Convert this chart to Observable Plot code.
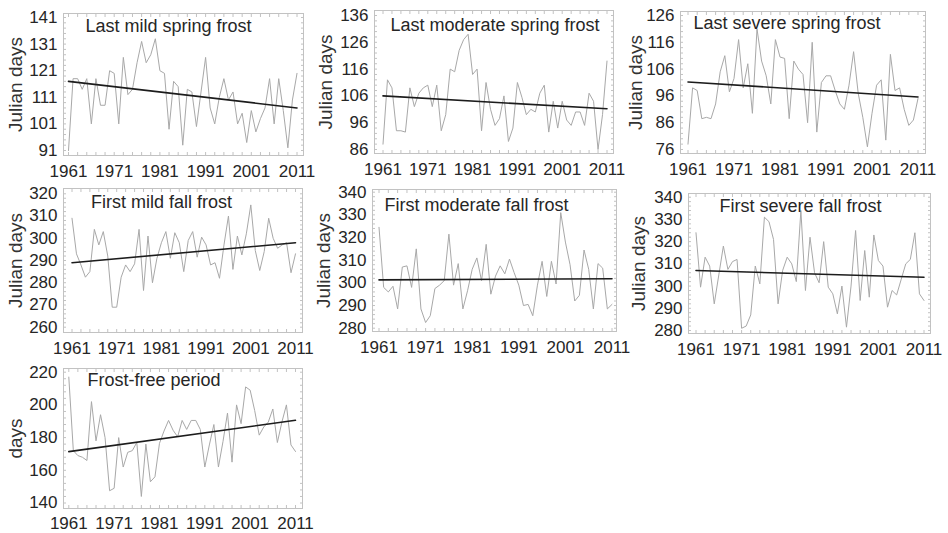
<!DOCTYPE html>
<html>
<head>
<meta charset="utf-8">
<script src="https://cdn.jsdelivr.net/npm/d3@7"></script>
<script src="https://cdn.jsdelivr.net/npm/@observablehq/plot@0.6"></script>
<style>
  body { margin: 0; background: #fff; }
  #fig { position: relative; width: 948px; height: 533px; overflow: hidden; background: #fff;
         font-family: "Liberation Sans", Arial, sans-serif; }
  #fig svg { position: absolute; overflow: visible; }
</style>
</head>
<body>
<div id="fig"></div>
<script>
// Frost dates, 1961–2011 (Julian day of year) and frost-free period length (days)
const years = d3.range(1961, 2012);
const yearTicks = [1961, 1971, 1981, 1991, 2001, 2011];
const trendYears = [1961, 2011];

const lastMild = [91,118,118,114,118,101,118,108,108,121,120,101,126,112,114,124,132,124,127,133,
  121,120,99,117,115,93,114,113,100,113,126,107,101,111,118,110,113,101,105,94,
  106,98,103,107,118,101,118,106,92,110,120];
const lastModerate = [88,112,109,93,93,92.5,109,102,107,109,110,102,110,93,99,116,115,123,127,129,
  114,116,93,111,101,95,97.5,106,89,94,111,105.5,99,101,100,107,110,92.5,104,94,
  104,97,95,100,100,95,107,104,86,99,119];
const lastSevere = [78,99,98,87.5,88,87.5,93,105,111,97.5,102.5,117,99,108,89.5,121,109,103.5,93,117,
  110.5,110,87.5,109,106,104,86,116,82.5,101,103.5,103.5,98,93,91,100,112.5,97,88,77,
  89.5,100,102,79.5,111.5,98,99,91,85,87,95];
const firstMild = [309,293,288,282.5,285,304,297,303,292,269,269,282.5,288,285,288.5,304,276.5,301,280,291,
  298,303,291,302.5,298,285,299,303,291.5,300.5,297,288,289,282,297,310,286,301,292.5,302,
  315,294.5,285.5,294,309,300,295.5,297,298,284.5,293];
const firstModerate = [324.5,298,296,298.5,288.5,307,307.5,298,315,288.5,282.5,285.5,297.5,299,301,321.5,299,308.5,288.5,296.5,
  306,311,301,317,295,303,307.5,304,310.5,304.5,299,290,290.5,285.5,299,309.5,294,309.5,299.5,331,
  318,308,292,294.5,314.5,306,288.5,308.5,306.5,288.5,290.5];
const firstSevere = [324,299.5,313,309,292,305,318,307.5,311,312,281,282,287,309,301,331,329,321,292,307,
  313,310,302,334,298,322,306,301.5,320,299.5,296.5,287.5,300,281.5,300,325,293.5,316,295,323,
  311.5,309,290.5,298,296,303,310,312,324,296.5,293.5];
const frostFree = [217,172,169,168,166,202,178,194,180,147.5,149,180,162,171,172,177,144,176,153,156,
  176.5,184,190.5,184.5,180.5,190.5,185,190.5,190.5,185,162,175.5,188,162,177.5,195,165,200,188.5,211,
  209,196.5,181.5,186.5,189.5,197.5,177,189.5,200,175.5,171.5];

// Linear trend, value at 1961 and at 2011
const trendLastMild = [117, 107];
const trendLastModerate = [106, 101.2];
const trendLastSevere = [101.2, 95.6];
const trendFirstMild = [289, 298];
const trendFirstModerate = [301.3, 301.8];
const trendFirstSevere = [307, 304];
const trendFrostFree = [171.4, 190.6];

// Y tick labels
const ticksLastMild = [91, 101, 111, 121, 131, 141];
const ticksLastModerate = [86, 96, 106, 116, 126, 136];
const ticksLastSevere = [76, 86, 96, 106, 116, 126];
const ticksFirstMild = [260, 270, 280, 290, 300, 310, 320];
const ticksFirstModerate = [280, 290, 300, 310, 320, 330, 340];
const ticksFirstSevere = [280, 290, 300, 310, 320, 330, 340];
const ticksFrostFree = [140, 160, 180, 200, 220];

const titles = ["Last mild spring frost", "Last moderate spring frost", "Last severe spring frost",
  "First mild fall frost", "First moderate fall frost", "First severe fall frost", "Frost-free period"];
const yLabels = ["Julian days", "Julian days", "Julian days", "Julian days", "Julian days", "Julian days", "days"];

// Panel placement: frame [left, top, right, bottom], scale insets [left, right, top, bottom],
// title offset from the frame's top-left corner, y label offset from the frame's left edge,
// gap between the frame and the year labels
const panels = [
  {values: lastMild, trend: trendLastMild, yTicks: ticksLastMild,
   frame: [63, 13, 303, 155], inset: [5, 6.5, 4, 5], titleAt: [22, 18], yLabelDx: -48, xPad: 9},
  {values: lastModerate, trend: trendLastModerate, yTicks: ticksLastModerate,
   frame: [374, 10, 613, 153], inset: [8.5, 6.5, 5, 4], titleAt: [16, 20], yLabelDx: -49, xPad: 9},
  {values: lastSevere, trend: trendLastSevere, yTicks: ticksLastSevere,
   frame: [680, 11, 925, 153], inset: [7.5, 7.5, 4, 4], titleAt: [13, 17.5], yLabelDx: -45, xPad: 9},
  {values: firstMild, trend: trendFirstMild, yTicks: ticksFirstMild,
   frame: [63, 188, 302, 332], inset: [8.5, 7, 5.3, 5.3], titleAt: [27.5, 19.5], yLabelDx: -48, xPad: 9},
  {values: firstModerate, trend: trendFirstModerate, yTicks: ticksFirstModerate,
   frame: [372, 189, 616, 331], inset: [6.5, 4.5, 2.7, 3.3], titleAt: [12, 21], yLabelDx: -48.5, xPad: 9},
  {values: firstSevere, trend: trendFirstSevere, yTicks: ticksFirstSevere,
   frame: [688, 193, 930, 333], inset: [7.5, 6.5, 3.7, 3], titleAt: [31, 18], yLabelDx: -49.5, xPad: 9},
  {values: frostFree, trend: trendFrostFree, yTicks: ticksFrostFree,
   frame: [63, 368, 302, 508], inset: [5.3, 7, 3.7, 5.5], titleAt: [24, 17], yLabelDx: -48, xPad: 8.5}
];

const FONT = '"Liberation Sans", Arial, sans-serif';
const INK = "#262626";
const FRAME = "#c2c2c2";
const ML = 72, MR = 16, MT = 16, MB = 34;
const minorYears = d3.range(1961, 2012, 2);
const fig = document.getElementById("fig");

panels.forEach((p, k) => {
  const [L, T, R, B] = p.frame;
  const [iL, iR, iT, iB] = p.inset;
  const series = years.map((year, i) => ({year, value: p.values[i]}));
  const trend = trendYears.map((year, i) => ({year, value: p.trend[i]}));
  const [y0, y1] = d3.extent(p.yTicks);
  const step = p.yTicks[1] - p.yTicks[0];
  const yMinor = d3.range(y0, y1 + 1e-6, step / 5);

  const chart = Plot.plot({
    width: ML + (R - L) + MR,
    height: MT + (B - T) + MB,
    marginLeft: ML, marginRight: MR, marginTop: MT, marginBottom: MB,
    style: {background: "transparent", fontFamily: FONT, fontSize: "17px", color: INK, overflow: "visible", maxWidth: "none"},
    x: {domain: [1961, 2011], insetLeft: iL, insetRight: iR},
    y: {domain: [y0, y1], insetTop: iT, insetBottom: iB},
    marks: [
      Plot.frame({stroke: FRAME, strokeWidth: 1}),
      // small inward ticks along the four sides of the frame
      Plot.axisX(minorYears, {anchor: "bottom", tickSize: 3, dy: -3, fill: "none", label: null, stroke: FRAME}),
      Plot.axisX(minorYears, {anchor: "top", tickSize: 3, dy: 3, fill: "none", label: null, stroke: FRAME}),
      Plot.axisY(yMinor, {anchor: "left", tickSize: 3, dx: 3, fill: "none", label: null, stroke: FRAME}),
      Plot.axisY(yMinor, {anchor: "right", tickSize: 3, dx: -3, fill: "none", label: null, stroke: FRAME}),
      // tick labels
      Plot.axisX(yearTicks, {anchor: "bottom", tickSize: 0, tickPadding: p.xPad, tickFormat: "d", label: null, fontSize: 17, fill: INK}),
      Plot.axisY(p.yTicks, {anchor: "left", tickSize: 0, tickPadding: 6, tickFormat: "d", label: null, fontSize: 17, fill: INK}),
      // annual values and linear trend
      Plot.line(series, {x: "year", y: "value", stroke: "#a8a8a8", strokeWidth: 1}),
      Plot.line(trend, {x: "year", y: "value", stroke: "#1c1c1c", strokeWidth: 1.6}),
      Plot.text([titles[k]], {frameAnchor: "top-left", dx: p.titleAt[0], dy: p.titleAt[1],
        textAnchor: "start", lineAnchor: "bottom", fontSize: 18, fill: INK}),
      Plot.text([yLabels[k]], {frameAnchor: "left", dx: p.yLabelDx, rotate: -90,
        textAnchor: "middle", lineAnchor: "middle", fontSize: 19, fill: "#333"})
    ]
  });
  chart.style.left = (L - ML) + "px";
  chart.style.top = (T - MT) + "px";
  fig.append(chart);
});
</script>
</body>
</html>
